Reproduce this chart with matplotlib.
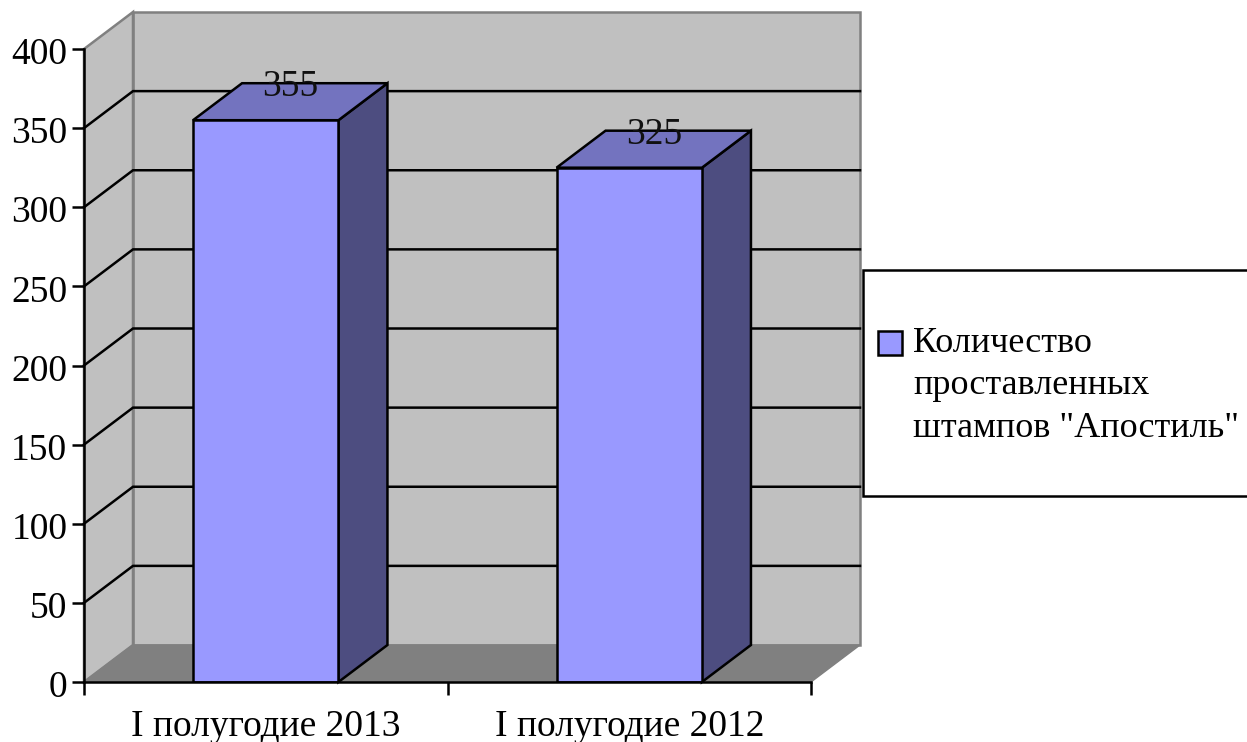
import matplotlib
matplotlib.use('Agg')
import matplotlib.pyplot as plt
from matplotlib.patches import Polygon, Rectangle
from matplotlib.transforms import ScaledTranslation

categories = ['I полугодие 2013', 'I полугодие 2012']
values = [355, 325]
series_name = 'Количество\nпроставленных\nштампов "Апостиль"'
yticks = [0, 50, 100, 150, 200, 250, 300, 350, 400]

W, H = 1247, 742
# front plane of the fake 3d box, pixels
left, right, top, bottom = 84, 811, 49, 682
ymax = 400
# depth of the box in data units
dx = 49 / ((right - left) / 2)
dy = 37 / ((bottom - top) / ymax)
bar_w = 0.4
fs = 27
lw = 1.8

c_front = '#9999ff'
c_top = '#7373bf'
c_side = '#4d4d80'
c_wall = '#c0c0c0'
c_floor = '#808080'

plt.rcParams['font.family'] = ['Liberation Serif', 'DejaVu Serif']

fig = plt.figure(figsize=(W / 100, H / 100), dpi=100)
ax = fig.add_axes([left / W, 1 - bottom / H, (right - left) / W, (bottom - top) / H])
ax.set_xlim(0, len(categories))
ax.set_ylim(0, ymax)
ax.patch.set_visible(False)
for s in ['top', 'right']:
    ax.spines[s].set_visible(False)
for s in ['left', 'bottom']:
    ax.spines[s].set_linewidth(lw)
    ax.spines[s].set_zorder(20)

n = len(categories)


def poly(pts, fc, ec, w, z):
    ax.add_patch(Polygon(pts, closed=True, facecolor=fc, edgecolor=ec, linewidth=w,
                         zorder=z, clip_on=False, joinstyle='miter'))


# walls and floor
poly([(dx, dy), (n + dx, dy), (n + dx, ymax + dy), (dx, ymax + dy)], c_wall, c_floor, lw, 1)
poly([(0, 0), (dx, dy), (dx, ymax + dy), (0, ymax)], c_wall, c_floor, lw, 1)
poly([(0, 0), (n, 0), (n + dx, dy), (dx, dy)], c_floor, c_floor, 1, 1)

# gridlines, side wall then back wall
for v in yticks[1:-1]:
    ax.plot([0, dx, n + dx], [v, v + dy, v + dy], color='black', lw=lw, zorder=2,
            clip_on=False, solid_joinstyle='miter')

# bars
for i, v in enumerate(values):
    x0 = i + 0.5 - bar_w / 2
    x1 = i + 0.5 + bar_w / 2
    poly([(x1, 0), (x1 + dx, dy), (x1 + dx, v + dy), (x1, v)], c_side, 'black', lw, 3)
    poly([(x0, v), (x1, v), (x1 + dx, v + dy), (x0 + dx, v + dy)], c_top, 'black', lw, 3)
    ax.bar(i + 0.5, v, bar_w, color=c_front, edgecolor='black', linewidth=lw, zorder=4)
    ax.text(i + 0.5 + dx / 2, v + dy - 2.5, str(v), ha='center', va='center', fontsize=fs,
            color='#111111', zorder=6)

ax.set_yticks(yticks)
ax.set_xticks(range(n + 1))
ax.set_xticklabels([])
ax.set_xticks([i + 0.5 for i in range(n)], minor=True)
ax.set_xticklabels(categories, minor=True)
ax.tick_params(axis='x', which='major', length=9, width=lw, direction='out')
ax.tick_params(axis='x', which='minor', length=0, pad=20, labelsize=fs)
ax.tick_params(axis='y', length=9, width=lw, direction='out', pad=3, labelsize=fs)
# labels sit a little under their ticks in the original
shift = ScaledTranslation(0, -2 / 100, fig.dpi_scale_trans)
for lab in ax.get_yticklabels():
    lab.set_transform(lab.get_transform() + shift)

# legend box runs off the right edge like the original
fig.add_artist(Rectangle((863 / W, 1 - 496 / H), 400 / W, 226 / H, transform=fig.transFigure,
                         facecolor='white', edgecolor='black', linewidth=lw))
fig.add_artist(Rectangle((878 / W, 1 - 355 / H), 24 / W, 24 / H, transform=fig.transFigure,
                         facecolor=c_front, edgecolor='black', linewidth=lw))
fig.text(913 / W, 1 - 327 / H, series_name, ha='left', va='top', fontsize=26, linespacing=1.37)

fig.savefig('out.png', dpi=100)
